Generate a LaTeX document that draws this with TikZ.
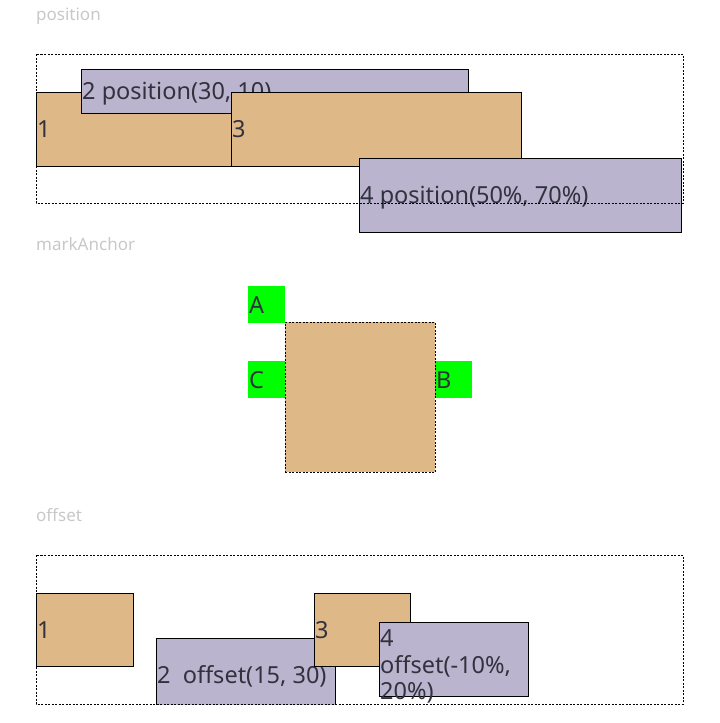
\documentclass[tikz,border=0pt]{standalone}
\usepackage{fontspec}
\setmainfont{Noto Sans}
\definecolor{tan}{RGB}{222,184,135}
\definecolor{lilac}{RGB}{187,180,206}
\definecolor{ink}{RGB}{50,50,62}
\definecolor{captiongray}{RGB}{200,200,200}

\begin{document}
\begin{tikzpicture}[x=1pt, y=-1pt,
  box/.style={draw=black, line width=0.9pt, inner sep=0, anchor=north west},
  tanbox/.style={box, fill=tan},
  lilacbox/.style={box, fill=lilac},
  greenbox/.style={fill=green, inner sep=0, anchor=north west, minimum width=37, minimum height=37},
  txt/.style={anchor=base west, inner sep=0, xshift=1, yshift=-8.5, text=ink, font=\fontsize{23.5}{26.5}\selectfont},
  frame/.style={draw, dash pattern=on 2pt off 1.5pt, line width=0.7pt},
  caption/.style={anchor=base west, inner sep=0, text=captiongray, font=\fontsize{17}{20}\selectfont}]
\useasboundingbox (0,0) rectangle (720,723);

% position
\node[caption] (capPos) at (36,20) {position};
\node[tanbox, minimum width=195, minimum height=74, label={[txt]west:1}] (p1) at (36,92) {};
\node[lilacbox, minimum width=387, minimum height=44, label={[txt]west:2 position(30, 10)}] (p2) at (81,69) {};
\node[tanbox, minimum width=290, minimum height=74, label={[txt]west:3}] (p3) at (231,92) {};
\node[lilacbox, minimum width=322, minimum height=74, label={[txt]west:4 position(50\%, 70\%)}] (p4) at (359,158) {};
\draw[frame] (36,54) rectangle (683,203);

% markAnchor
\node[caption] (capMark) at (36,250) {markAnchor};
\node[greenbox, label={[txt]west:A}] (ga) at (248,286) {};
\node[greenbox, label={[txt]west:C}] (gc) at (248,361) {};
\node[greenbox, label={[txt]west:B}] (gb) at (435,361) {};
\node[tanbox, frame, minimum width=150, minimum height=150] (sq) at (285,322) {};

% offset
\node[caption] (capOff) at (36,521) {offset};
\begin{scope}
\clip (36,555) rectangle (683,704);
\node[tanbox, minimum width=97, minimum height=73, label={[txt]west:1}] (o1) at (36,593) {};
\node[lilacbox, minimum width=179, minimum height=74, label={[txt]west:2~ offset(15, 30)}] (o2) at (156,638) {};
\node[tanbox, minimum width=96, minimum height=73, label={[txt]west:3}] (o3) at (314,593) {};
\node[lilacbox, minimum width=149, minimum height=74, label={[txt, anchor=west, align=left, yshift=1.5]west:4\\offset(-10\%,\\20\%)}] (o4) at (379,622) {};
\end{scope}
\draw[frame] (36,555) rectangle (683,704);
\end{tikzpicture}
\end{document}
